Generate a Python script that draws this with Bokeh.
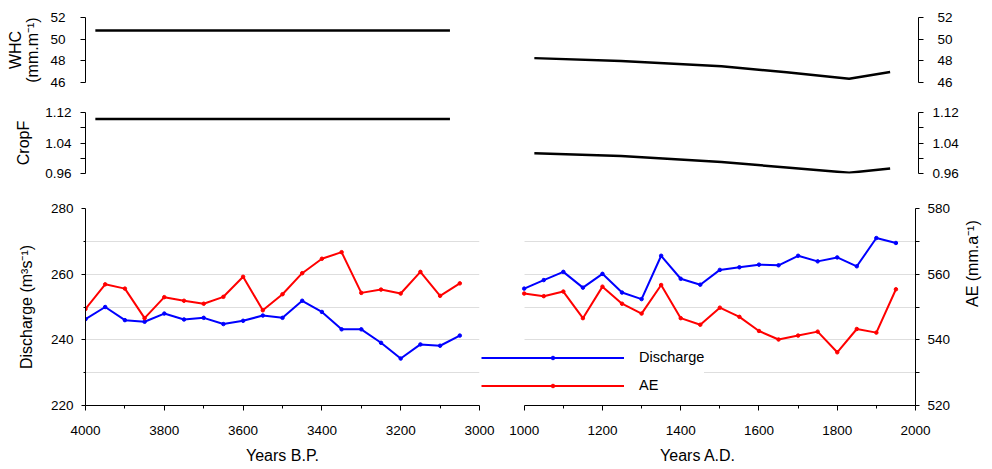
import math
from bokeh.plotting import figure
from bokeh.models import Range1d, FixedTicker, Legend, LegendItem, NumeralTickFormatter, Grid
from bokeh.layouts import column, row
from bokeh.embed import file_html
from bokeh.resources import INLINE

FONT = "Liberation Sans"

# ---------------- data ----------------
years_bp = [4000, 3950, 3900, 3850, 3800, 3750, 3700, 3650, 3600, 3550,
            3500, 3450, 3400, 3350, 3300, 3250, 3200, 3150, 3100, 3050]
discharge_bp = [246.3, 250.0, 246.0, 245.5, 248.0, 246.2, 246.7, 244.8, 245.8, 247.4,
                246.7, 251.9, 248.5, 243.2, 243.2, 239.1, 234.3, 238.6, 238.2, 241.3]
ae_bp = [549.4, 556.9, 555.6, 546.6, 553.0, 551.9, 551.0, 553.1, 559.2, 549.0,
         553.9, 560.3, 564.7, 566.7, 554.3, 555.3, 554.1, 560.7, 553.4, 557.2]

years_ad = [1000, 1050, 1100, 1150, 1200, 1250, 1300, 1350, 1400, 1450,
            1500, 1550, 1600, 1650, 1700, 1750, 1800, 1850, 1900, 1950]
discharge_ad = [255.6, 258.2, 260.7, 255.9, 260.1, 254.4, 252.4, 265.6, 258.6, 256.8,
                261.3, 262.1, 262.9, 262.7, 265.6, 263.9, 265.1, 262.4, 271.0, 269.5]
ae_ad = [554.1, 553.3, 554.7, 546.6, 556.2, 551.0, 548.0, 556.7, 546.6, 544.6,
         549.8, 547.0, 542.7, 540.1, 541.3, 542.5, 536.2, 543.3, 542.2, 555.4]

top_years_bp = [3975, 3075]
whc_bp = [50.8, 50.8]
cropf_bp = [1.103, 1.103]

top_years_ad = [1025, 1245, 1500, 1665, 1824, 1928]
whc_ad = [48.25, 47.98, 47.50, 46.95, 46.34, 46.96]
cropf_ad = [1.013, 1.006, 0.990, 0.976, 0.962, 0.973]

whc_ticks = [46, 48, 50, 52]
cropf_ticks = [0.96, 1.04, 1.12]
cropf_minor = [1.00, 1.08]
q_ticks = [220, 240, 260, 280]
q_minor = [230, 250, 270]
ae_ticks = [520, 540, 560, 580]
ae_minor = [530, 550, 570]
bp_ticks = [4000, 3800, 3600, 3400, 3200, 3000]
bp_minor = [3900, 3700, 3500, 3300, 3100]
ad_ticks = [1000, 1200, 1400, 1600, 1800, 2000]
ad_minor = [1100, 1300, 1500, 1700, 1900]

BLUE = "#0000ff"
RED = "#ff0000"
GRID = "#dedede"

# layout geometry (pixels)
LW, RW = 496, 496          # column widths
FRAME_W = 394              # width of each panel's plotting area
GAP = 44                   # blank strip at left of the A.D. panel (legend lives there)


def make_fig(width, height, left, right, top, bottom, x_range, y_range, **kw):
    p = figure(width=width, height=height, x_range=x_range, y_range=y_range,
               output_backend="svg", toolbar_location=None,
               min_border_left=left, min_border_right=right,
               min_border_top=top, min_border_bottom=bottom, **kw)
    p.outline_line_color = None
    p.grid.visible = False
    return p


def style_yaxis(ax, ticks, minor, standoff, tick_out=5, minor_out=5):
    ax.ticker = FixedTicker(ticks=ticks, minor_ticks=minor)
    ax.axis_line_color = "black"
    ax.major_tick_line_color = "black"
    ax.minor_tick_line_color = "black" if minor else None
    ax.major_tick_out = tick_out
    ax.major_tick_in = 0
    ax.minor_tick_out = minor_out
    ax.minor_tick_in = 0
    ax.major_label_standoff = standoff
    ax.major_label_text_font = FONT
    ax.major_label_text_font_size = "13.5px"
    ax.major_label_text_color = "black"
    ax.axis_label_text_font = FONT
    ax.axis_label_text_font_size = "16px"
    ax.axis_label_text_font_style = "normal"
    ax.axis_label_text_color = "black"


# ---------------- row 1: WHC ----------------
whc_l = make_fig(LW, 100, 85, LW - 85 - FRAME_W, 17, 18, Range1d(4000, 3000), Range1d(46, 52),
                 x_axis_location=None)
style_yaxis(whc_l.yaxis[0], whc_ticks, [], 15)
whc_l.yaxis[0].axis_label = "WHC\n(mm.m\u207b\u00b9)"
whc_l.yaxis[0].axis_label_standoff = 6
whc_l.yaxis[0].axis_label_text_line_height = 1.0
whc_l.line(top_years_bp, whc_bp, color="black", line_width=2.5)

whc_r = make_fig(RW, 100, 28, RW - 28 - FRAME_W, 17, 18, Range1d(1000, 2000), Range1d(46, 52),
                 x_axis_location=None, y_axis_location="right")
style_yaxis(whc_r.yaxis[0], whc_ticks, [], 14)
whc_r.line(top_years_ad, whc_ad, color="black", line_width=2.5)

# ---------------- row 2: CropF ----------------
crop_l = make_fig(LW, 88, 85, LW - 85 - FRAME_W, 12, 15, Range1d(4000, 3000), Range1d(0.96, 1.12),
                  x_axis_location=None)
style_yaxis(crop_l.yaxis[0], cropf_ticks, cropf_minor, 9)
crop_l.yaxis[0].formatter = NumeralTickFormatter(format="0.00")
crop_l.yaxis[0].axis_label = "CropF"
crop_l.yaxis[0].axis_label_standoff = 10
crop_l.line(top_years_bp, cropf_bp, color="black", line_width=2.5)

crop_r = make_fig(RW, 88, 28, RW - 28 - FRAME_W, 12, 15, Range1d(1000, 2000), Range1d(0.96, 1.12),
                  x_axis_location=None, y_axis_location="right")
style_yaxis(crop_r.yaxis[0], cropf_ticks, cropf_minor, 9)
crop_r.yaxis[0].formatter = NumeralTickFormatter(format="0.00")
crop_r.line(top_years_ad, cropf_ad, color="black", line_width=2.5)


# ---------------- row 3: Discharge / AE ----------------
def style_xaxis(ax, ticks, minor, label):
    ax.ticker = FixedTicker(ticks=ticks, minor_ticks=minor)
    ax.axis_line_color = "black"
    ax.major_tick_line_color = "black"
    ax.minor_tick_line_color = "black"
    ax.major_tick_out = 5
    ax.major_tick_in = 0
    ax.minor_tick_out = 3
    ax.minor_tick_in = 0
    ax.major_label_standoff = 15
    ax.major_label_text_font = FONT
    ax.major_label_text_font_size = "13.5px"
    ax.major_label_text_color = "black"
    ax.axis_label = label
    ax.axis_label_standoff = 9
    ax.axis_label_text_font = FONT
    ax.axis_label_text_font_size = "16px"
    ax.axis_label_text_font_style = "normal"
    ax.axis_label_text_color = "black"


HAS_CROSS = "cross_bounds" in Grid.properties()


def style_grid(p, ticks, minor, cross=None):
    g = p.ygrid[0]
    g.visible = True
    g.ticker = FixedTicker(ticks=ticks, minor_ticks=minor)
    g.grid_line_color = GRID
    g.minor_grid_line_color = GRID
    g.grid_line_width = 1
    if cross is not None and HAS_CROSS:
        g.cross_bounds = cross


bot_l = make_fig(LW, 281, 85, LW - 85 - FRAME_W, 20, 64, Range1d(4000, 3000), Range1d(220, 280))
bot_l.extra_y_ranges = {"ae": Range1d(520, 580)}
style_xaxis(bot_l.xaxis[0], bp_ticks, bp_minor, "Years B.P.")
style_yaxis(bot_l.yaxis[0], q_ticks, q_minor, 8, tick_out=4, minor_out=2)
bot_l.yaxis[0].axis_label = "Discharge (m\u00b3s\u207b\u00b9)"
bot_l.yaxis[0].axis_label_standoff = 13
style_grid(bot_l, q_ticks, q_minor)
bot_l.line(years_bp, discharge_bp, color=BLUE, line_width=2)
bot_l.scatter(years_bp, discharge_bp, color=BLUE, size=3.5)
bot_l.line(years_bp, ae_bp, color=RED, line_width=2, y_range_name="ae")
bot_l.scatter(years_bp, ae_bp, color=RED, size=3.5, y_range_name="ae")

# A.D. panel: its plotting area starts GAP px left of year 1000 so the legend fits there
ad_start = 1000 - GAP * (2000 - 1000) / FRAME_W
BR_W = GAP + FRAME_W + 74
bot_r = make_fig(BR_W, 281, 0, 74, 20, 64, Range1d(ad_start, 2000), Range1d(520, 580),
                 y_axis_location="right", margin=(0, 0, 0, -(LW - 480)))
bot_r.border_fill_alpha = 0
bot_r.background_fill_alpha = 0
bot_r.extra_y_ranges = {"q": Range1d(220, 280)}
style_xaxis(bot_r.xaxis[0], ad_ticks, ad_minor, "Years A.D.")
bot_r.xaxis[0].bounds = (1000, 2000)
style_yaxis(bot_r.yaxis[0], ae_ticks, ae_minor, 8, tick_out=4, minor_out=4)
bot_r.yaxis[0].axis_label = "AE (mm.a\u207b\u00b9)"
bot_r.yaxis[0].axis_label_standoff = 19
bot_r.yaxis[0].axis_label_orientation = math.pi / 2
style_grid(bot_r, ae_ticks, ae_minor, cross=(1000, 2000))
lq = bot_r.line(years_ad, discharge_ad, color=BLUE, line_width=2, y_range_name="q")
sq = bot_r.scatter(years_ad, discharge_ad, color=BLUE, size=3.5, y_range_name="q")
la = bot_r.line(years_ad, ae_ad, color=RED, line_width=2)
sa = bot_r.scatter(years_ad, ae_ad, color=RED, size=3.5)

legend = Legend(items=[LegendItem(label="Discharge", renderers=[lq, sq]),
                       LegendItem(label="AE", renderers=[la, sa])],
                location=(1, 10), padding=0, margin=0, spacing=8,
                glyph_width=143, glyph_height=9, label_height=20, label_standoff=15,
                border_line_color=None, background_fill_color="white",
                background_fill_alpha=1,
                label_text_font=FONT, label_text_font_size="14.5px",
                label_text_color="black")
bot_r.add_layout(legend)

layout = column(row(whc_l, whc_r), row(crop_l, crop_r), row(bot_l, bot_r))

open("out.html", "w").write(file_html(layout, INLINE))
